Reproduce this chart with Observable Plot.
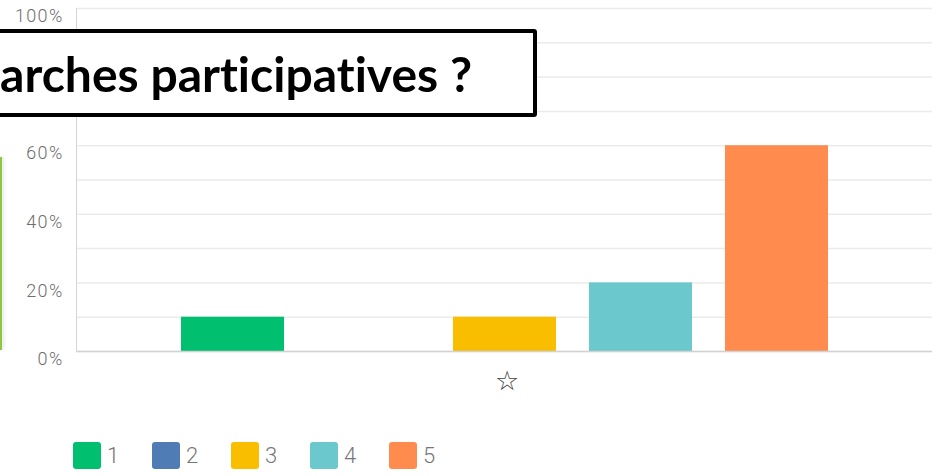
<!DOCTYPE html>
<html>
<head>
<meta charset="utf-8">
<script src="https://cdn.jsdelivr.net/npm/d3@7"></script>
<script src="https://cdn.jsdelivr.net/npm/@observablehq/plot@0.6"></script>
<style>
  html, body { margin: 0; padding: 0; background: #fff; overflow: hidden; }
  #wrap { position: relative; width: 932px; height: 476px; }
  #chart { position: absolute; left: 0; top: 0; }
  #chart svg text { letter-spacing: 1.3px; }
  #legend { position: absolute; left: 73px; top: 442px; display: flex; font-family: Roboto, sans-serif; }
  .item { display: flex; align-items: center; width: 79px; }
  .sw { width: 28px; height: 27px; border-radius: 3px; }
  .lab { margin-left: 6px; font-size: 22px; font-weight: 300; color: #777; }
  #titlebox { position: absolute; left: -30px; top: 29px; width: 559px; height: 80px; border: 4px solid #000; border-radius: 3px; background: #fff; box-sizing: content-box; }
  #title { position: absolute; right: 61px; top: 1px; font-family: Lato, "Open Sans", sans-serif; font-weight: 700; font-size: 44px; line-height: 80px; color: #000; white-space: nowrap; font-variant-ligatures: none; }
  #greenedge { position: absolute; left: 0; top: 157px; width: 2px; height: 193px; background: #8dc63f; box-shadow: 2px 0 3px rgba(0,0,0,0.12); }
</style>
</head>
<body>
<div id="wrap">
  <div id="chart"></div>
  <div id="greenedge"></div>
  <div id="titlebox"><span id="title"></span></div>
  <div id="legend"></div>
</div>
<script>
const categories = ["1", "2", "3", "4", "5"];
const values = [0.10, 0.00, 0.10, 0.20, 0.60];
const colors = ["#00bf6f", "#507cb6", "#f9be00", "#6bc8cd", "#ff8b4f"];
const question = "☆";
const yTickValues = [0, 0.2, 0.4, 0.6, 0.8, 1.0];
const yTickLabels = ["0%", "20%", "40%", "60%", "80%", "100%"];
const gridValues = [0, 0.1, 0.2, 0.3, 0.4, 0.5, 0.6, 0.7, 0.8, 0.9, 1.0];
const titleText = "arches participatives ?";

const data = categories.map((c, i) => ({q: question, answer: c, value: values[i]}));

const chart = Plot.plot({
  width: 932,
  height: 410,
  marginLeft: 76,
  marginRight: 0,
  marginTop: 8,
  marginBottom: 59,
  style: {fontFamily: "Roboto, sans-serif", background: "transparent"},
  fx: {domain: [question], padding: 0, label: null},
  x: {domain: categories, paddingInner: 0.245, paddingOuter: 0.758, axis: null},
  y: {domain: [0, 1], axis: null},
  color: {domain: categories, range: colors},
  marks: [
    Plot.gridY(gridValues, {stroke: "#ebebeb", strokeOpacity: 1, strokeWidth: 1.5}),
    Plot.barY(data, {fx: "q", x: "answer", y: "value", fill: "answer"}),
    Plot.ruleY([0], {stroke: "#d2d2d2", strokeWidth: 1.5}),
    Plot.frame({anchor: "left", stroke: "#d5d5d5"}),
    Plot.axisY(yTickValues, {
      tickSize: 0, tickPadding: 13, fontSize: 18, fontWeight: 300, fill: "#6e6e6e", dy: 8, label: null,
      tickFormat: d => yTickLabels[yTickValues.indexOf(d)]
    }),
    Plot.axisFx({anchor: "bottom", tickSize: 0, tickPadding: 19, fontSize: 27, fill: "#444", label: null, dx: 3})
  ]
});
document.getElementById("chart").appendChild(chart);

// legend
const legend = d3.select("#legend");
categories.forEach((c, i) => {
  const it = legend.append("div").attr("class", "item");
  it.append("div").attr("class", "sw").style("background", colors[i]);
  it.append("div").attr("class", "lab").text(c);
});

// title overlay
const t = document.getElementById("title");
t.textContent = titleText;
const w = t.getBoundingClientRect().width;
t.style.fontSize = (44 * 472 / w) + "px";
</script>
</body>
</html>
